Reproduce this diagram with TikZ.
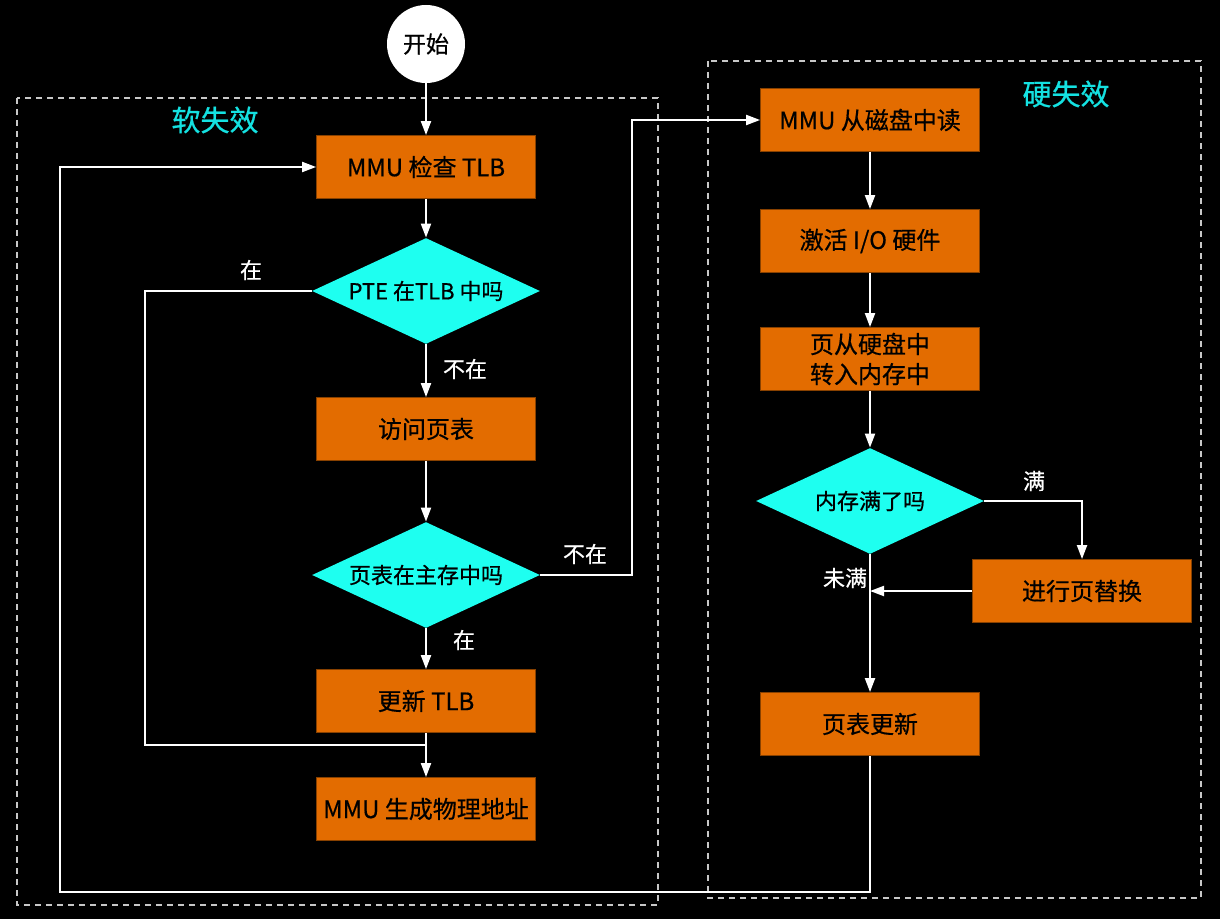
\documentclass[tikz,border=0pt]{standalone}
\usepackage{fontspec}
\setmainfont{Noto Sans CJK SC}
\newfontfamily\boxfont{Noto Sans CJK SC}[FakeBold=0.6]
\usepackage{tikz}
\usetikzlibrary{arrows.meta, shapes.geometric, calc}

\definecolor{boxorange}{RGB}{227,108,0}
\definecolor{qcyan}{RGB}{30,255,240}
\definecolor{titlecyan}{RGB}{20,225,225}
\definecolor{dashgray}{RGB}{200,200,200}

\begin{document}
\begin{tikzpicture}[x=0.5pt, y=-0.5pt,
        stepbox/.style={draw=boxorange!60!black, line width=0.4pt, fill=boxorange,
            minimum width=109.5pt, minimum height=31.5pt, inner sep=0pt,
            align=center, font=\boxfont\fontsize{12}{15}\selectfont, text=black},
        askbox/.style={diamond, aspect=2.16, fill=qcyan, minimum width=114pt, minimum height=53pt,
            inner sep=0pt, font=\boxfont\fontsize{11}{13}\selectfont, text=black},
        flow/.style={draw=white, line width=1pt, -{Triangle[length=7pt, width=5pt]}},
        plain/.style={draw=white, line width=1pt},
        tag/.style={text=white, font=\boxfont\fontsize{11}{13}\selectfont},
        zone/.style={draw=dashgray, line width=0.8pt, dash pattern=on 3pt off 2.5pt},
        zonetitle/.style={text=titlecyan, font=\boxfont\fontsize{14.5}{17}\selectfont}]
    \fill[black] (0,0) rectangle (1220,919);
    \useasboundingbox (0,0) rectangle (1220,919);

    % zones
    \draw[zone] (17,98) rectangle (658,905);
    \draw[zone] (708,61) rectangle (1201,898);
    \node[zonetitle] (softtitle) at (215,120) {软失效};
    \node[zonetitle] (hardtitle) at (1066,94) {硬失效};

    % soft miss column
    \node[circle, fill=white, minimum size=39pt, inner sep=0pt,
          font=\boxfont\fontsize{11.5}{13}\selectfont] (start) at (426,44) {开始};
    \node[stepbox] (check) at (426,167) {MMU 检查 TLB};
    \node[askbox] (pte) at (426,291) {PTE 在TLB 中吗};
    \node[stepbox] (visit) at (426,429) {访问页表};
    \node[askbox] (inmem) at (426,575) {页表在主存中吗};
    \node[stepbox] (update) at (426,701) {更新 TLB};
    \node[stepbox] (phys) at (426,809) {MMU 生成物理地址};

    % hard miss column
    \node[stepbox] (read) at (870,120) {MMU 从磁盘中读};
    \node[stepbox] (io) at (870,241) {激活 I/O 硬件};
    \node[stepbox] (load) at (870,359) {页从硬盘中\\转入内存中};
    \node[askbox] (full) at (870,501) {内存满了吗};
    \node[stepbox] (replace) at (1082,591) {进行页替换};
    \node[stepbox] (ptupd) at (870,724) {页表更新};

    \coordinate (hitcorner) at (145,745);
    \coordinate (jump) at (632,120);
    \coordinate (back) at (60,892);

    % connectors
    \draw[flow] (start) -- (check);
    \draw[flow] (check) -- (pte);
    \draw[flow] (pte) -- (visit);
    \draw[flow] (visit) -- (inmem);
    \draw[flow] (inmem) -- (update);
    \draw[flow] (update) -- (phys);
    \draw[plain] (pte.west) -| (hitcorner) -- (hitcorner -| update.south);
    \draw[flow] (inmem.east) -| (jump) -- (read.west);

    \draw[flow] (read) -- (io);
    \draw[flow] (io) -- (load);
    \draw[flow] (load) -- (full);
    \draw[flow] (full.east) -| (replace.north);
    \draw[flow] (replace.west) -- (replace.west -| full.south);
    \draw[flow] (full) -- (ptupd);
    \draw[flow] (ptupd.south) |- (back) |- (check.west);

    % branch labels
    \node[tag] (yes1) at (251,270) {在};
    \node[tag] (no1) at (465,369) {不在};
    \node[tag] (no2) at (585,554) {不在};
    \node[tag] (yes2) at (464,640) {在};
    \node[tag] (isfull) at (1034,481) {满};
    \node[tag] (notfull) at (845,578) {未满};
\end{tikzpicture}
\end{document}
